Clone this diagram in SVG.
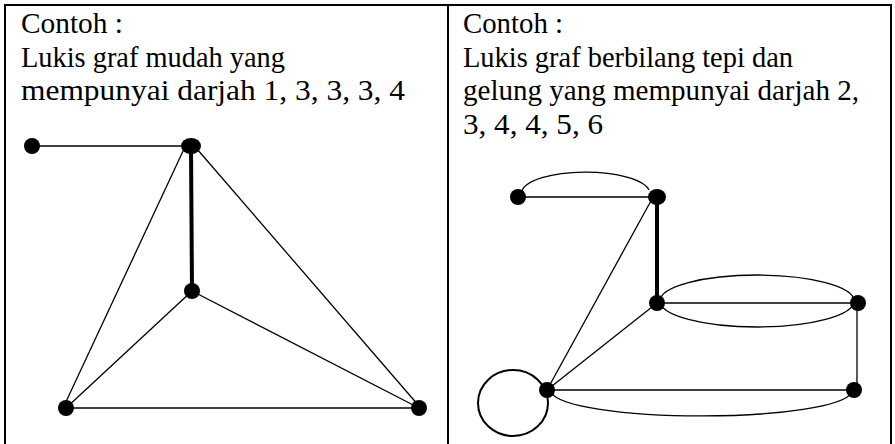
<svg xmlns="http://www.w3.org/2000/svg" width="895" height="444" viewBox="0 0 895 444">
<style>
.t{font-family:"Liberation Serif","Times New Roman",serif;fill:#000}
.e{stroke:#000;stroke-width:1.3;fill:none}
.b{stroke:#000;stroke-width:4;fill:none}
.n{fill:#000}
.f{stroke:#000;stroke-width:2;fill:none}
</style>
<rect width="895" height="444" fill="#fff"/>
<g id="frame">
<line class="f" x1="4" y1="5" x2="892" y2="5"/>
<line class="f" x1="5" y1="4" x2="5" y2="444"/>
<line class="f" x1="448" y1="4" x2="448" y2="444"/>
<line class="f" x1="891" y1="4" x2="891" y2="444"/>
</g>
<g id="text-left" class="t" font-size="28.5">
<text x="21" y="33" textLength="102" lengthAdjust="spacingAndGlyphs">Contoh :</text>
<text x="21" y="67" textLength="264" lengthAdjust="spacingAndGlyphs">Lukis graf mudah yang</text>
<text x="21" y="100" textLength="384" lengthAdjust="spacingAndGlyphs">mempunyai darjah 1, 3, 3, 3, 4</text>
</g>
<g id="text-right" class="t" font-size="28.5">
<text x="463" y="33" textLength="100" lengthAdjust="spacingAndGlyphs">Contoh :</text>
<text x="463" y="67" textLength="330" lengthAdjust="spacingAndGlyphs">Lukis graf berbilang tepi dan</text>
<text x="463" y="100" textLength="396" lengthAdjust="spacingAndGlyphs">gelung yang mempunyai darjah 2,</text>
<text x="463" y="134" textLength="140" lengthAdjust="spacingAndGlyphs">3, 4, 4, 5, 6</text>
</g>
<g id="connectors">
<line class="e" x1="32" y1="146" x2="191" y2="146"/>
<line class="b" x1="191" y1="146" x2="192" y2="291"/>
<line class="e" x1="184" y1="149" x2="64" y2="406"/>
<line class="e" x1="197" y1="149" x2="419" y2="406"/>
<line class="e" x1="192" y1="291" x2="66" y2="408"/>
<line class="e" x1="192" y1="291" x2="419" y2="408"/>
<line class="e" x1="66" y1="408" x2="419" y2="408"/>
<line class="e" x1="518" y1="197" x2="657" y2="197"/>
<path class="e" d="M522 191 A64 21 0 0 1 649 190"/>
<line class="b" x1="657" y1="197" x2="657" y2="303"/>
<line class="e" x1="652" y1="199" x2="547" y2="390"/>
<line class="e" x1="657" y1="303" x2="547" y2="390"/>
<line class="e" x1="657" y1="303" x2="858" y2="303"/>
<ellipse class="e" cx="757" cy="301" rx="97" ry="26"/>
<line class="e" x1="857" y1="303" x2="857" y2="390"/>
<line class="e" x1="547" y1="390" x2="854" y2="390"/>
<path class="e" d="M552 393 A150 25 0 0 0 851 393"/>
<ellipse class="f" cx="513" cy="403" rx="35" ry="33"/>
</g>
<g id="node-a"><circle class="n" cx="32" cy="146" r="8"/></g>
<g id="node-b"><ellipse class="n" cx="191" cy="146" rx="10" ry="8"/></g>
<g id="node-c"><circle class="n" cx="192" cy="291" r="8"/></g>
<g id="node-d"><circle class="n" cx="66" cy="408" r="8"/></g>
<g id="node-e"><circle class="n" cx="419" cy="408" r="8"/></g>
<g id="node-p"><circle class="n" cx="518" cy="197" r="8"/></g>
<g id="node-q"><ellipse class="n" cx="657" cy="197" rx="9" ry="8"/></g>
<g id="node-r"><circle class="n" cx="657" cy="303" r="8"/></g>
<g id="node-s"><circle class="n" cx="858" cy="303" r="8"/></g>
<g id="node-t"><circle class="n" cx="854" cy="390" r="8"/></g>
<g id="node-u"><circle class="n" cx="547" cy="390" r="8"/></g>
</svg>
